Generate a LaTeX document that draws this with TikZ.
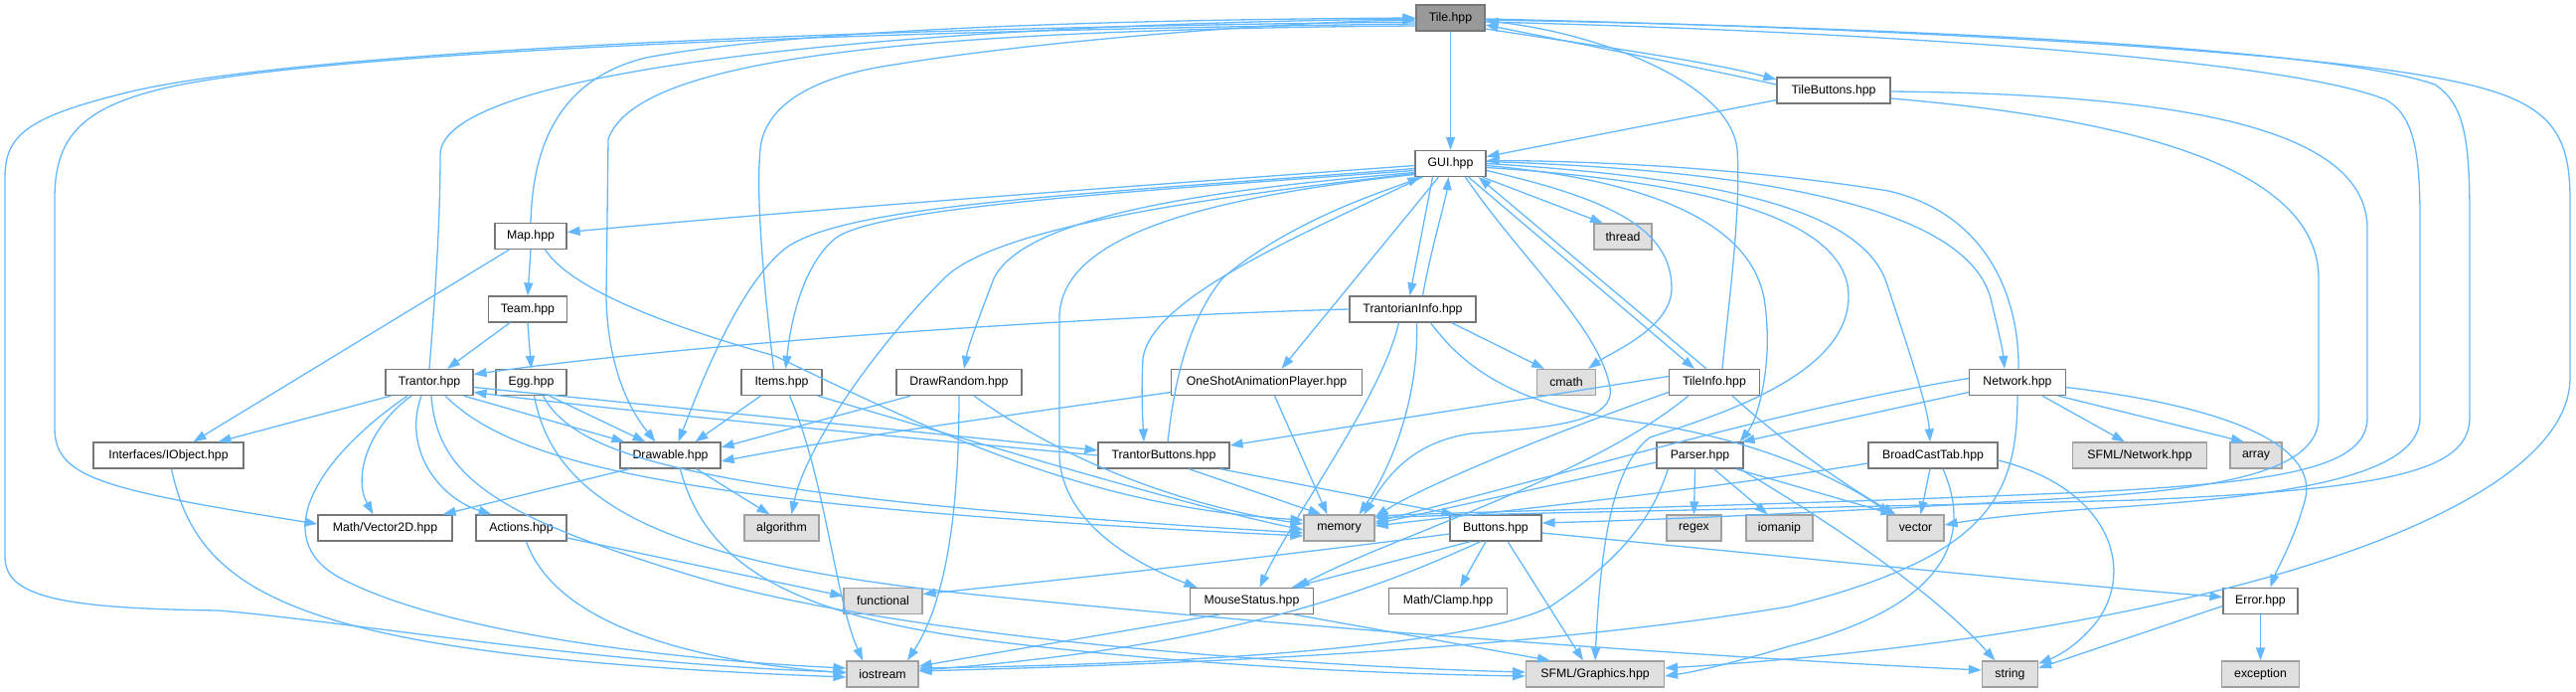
\documentclass[tikz,border=0pt]{standalone}
\usepackage{fontspec}
\setmainfont{Liberation Sans}
\usetikzlibrary{arrows.meta,calc}
\definecolor{edgeblue}{HTML}{63B8FF}
\definecolor{bordergray}{HTML}{777777}
\definecolor{sysborder}{HTML}{A0A0A0}
\definecolor{sysfill}{HTML}{E0E0E0}
\definecolor{rootfill}{HTML}{999999}
\begin{document}
\begin{tikzpicture}[x=1pt,y=-1pt,
  nd/.style={draw=bordergray,fill=white,line width=1.2pt,minimum height=26pt,inner sep=0pt,font=\fontsize{12.3pt}{14pt}\selectfont},
  sys/.style={nd,draw=sysborder,fill=sysfill},
  root/.style={nd,fill=rootfill},
  e/.style={draw=edgeblue,line width=1.3pt,-{Triangle[length=13pt,width=9pt]}}]
\useasboundingbox (0,0) rectangle (2592,696);
% nodes
\node[root,minimum width=69pt] (tile) at (1459.5,18) {Tile.hpp};
\node[nd,minimum width=71pt] (gui) at (1459.5,164.5) {GUI.hpp};
\node[nd,minimum width=114pt] (tb) at (1845,91) {TileButtons.hpp};
\node[nd,minimum width=72pt] (map) at (534,237.5) {Map.hpp};
\node[sys,minimum width=58pt] (thread) at (1633,238) {thread};
\node[nd,minimum width=79pt] (team) at (531,311) {Team.hpp};
\node[nd,minimum width=127pt] (tinf) at (1421.5,311) {TrantorianInfo.hpp};
\node[nd,minimum width=88pt] (trantor) at (432,384.5) {Trantor.hpp};
\node[nd,minimum width=71pt] (egg) at (534.5,384.5) {Egg.hpp};
\node[nd,minimum width=81pt] (items) at (786.5,384.5) {Items.hpp};
\node[nd,minimum width=126pt] (drawrandom) at (965,384.5) {DrawRandom.hpp};
\node[nd,minimum width=192pt] (oneshot) at (1274.5,384.5) {OneShotAnimationPlayer.hpp};
\node[sys,minimum width=59pt] (cmath) at (1576,384.5) {cmath};
\node[nd,minimum width=91pt] (tinfo) at (1725,384.5) {TileInfo.hpp};
\node[nd,minimum width=97pt] (network) at (2030,384.5) {Network.hpp};
\node[nd,minimum width=151pt] (iobject) at (169.5,458) {Interfaces/IObject.hpp};
\node[nd,minimum width=101pt] (drawable) at (674.5,458) {Drawable.hpp};
\node[nd,minimum width=132pt] (tbtn) at (1171,458) {TrantorButtons.hpp};
\node[nd,minimum width=87pt] (parser) at (1710.5,458) {Parser.hpp};
\node[nd,minimum width=130pt] (bct) at (1945,458) {BroadCastTab.hpp};
\node[sys,minimum width=135pt] (sfn) at (2153,458) {SFML/Network.hpp};
\node[sys,minimum width=52pt] (array) at (2270,458) {array};
\node[nd,minimum width=135pt] (vec) at (387.5,531) {Math/Vector2D.hpp};
\node[nd,minimum width=91pt] (actions) at (524.5,531) {Actions.hpp};
\node[sys,minimum width=75pt] (algorithm) at (786.5,531) {algorithm};
\node[sys,minimum width=71pt] (memory) at (1347.5,531) {memory};
\node[nd,minimum width=92pt] (buttons) at (1505,531) {Buttons.hpp};
\node[sys,minimum width=55pt] (regex) at (1704.5,531) {regex};
\node[sys,minimum width=67pt] (iomanip) at (1790.5,531) {iomanip};
\node[sys,minimum width=57pt] (vector) at (1927.5,531) {vector};
\node[sys,minimum width=79pt] (functional) at (888.5,604.5) {functional};
\node[nd,minimum width=124pt] (mouse) at (1259.5,604.5) {MouseStatus.hpp};
\node[nd,minimum width=119pt] (clamp) at (1457,604.5) {Math/Clamp.hpp};
\node[nd,minimum width=75pt] (error) at (2274.5,604.5) {Error.hpp};
\node[sys,minimum width=72pt] (iostream) at (888,678) {iostream};
\node[sys,minimum width=139pt] (sfg) at (1605,678) {SFML/Graphics.hpp};
\node[sys,minimum width=56pt] (string) at (2022.5,678) {string};
\node[sys,minimum width=78pt] (exception) at (2274.5,678) {exception};
% Tile
\draw[e] (tile.south) -- (gui.north);
\draw[e] ($(tile.east)+(0,11)$) .. controls (1600,45) and (1720,62) .. ($(tb.west)+(0,-11)$);
\draw[e] ($(tb.west)+(0,-6)$) .. controls (1700,66) and (1580,42) .. ($(tile.east)+(0,7)$);
\draw[e] ($(tinfo.north)+(8,0)$) .. controls (1740,300) and (1752,210) .. (1748,150) .. controls (1740,80) and (1600,32) .. ($(tile.east)+(0,3)$);
\draw[e] ($(tile.east)+(0,1)$) .. controls (1900,28) and (2300,50) .. (2450,78) .. controls (2560,98) and (2586,125) .. (2586,200) -- (2586,380) .. controls (2586,520) and (2200,640) .. ($(sfg.east)+(0,-6)$);
\draw[e] ($(tile.east)+(0,4)$) .. controls (1900,32) and (2300,60) .. (2400,100) .. controls (2428,115) and (2435,150) .. (2435,220) -- (2435,420) .. controls (2435,480) and (2300,500) .. (2100,512) .. controls (2020,518) and (1985,523) .. ($(vector.east)+(0,-3)$);
\draw[e] ($(tile.east)+(0,2)$) .. controls (1950,28) and (2350,50) .. (2450,85) .. controls (2480,105) and (2485,140) .. (2485,220) -- (2485,420) .. controls (2485,475) and (2400,492) .. (2150,503) .. controls (1800,512) and (1500,516) .. ($(memory.east)+(0,-10)$);
\draw[e] ($(tile.west)+(0,4)$) .. controls (700,30) and (250,60) .. (120,95) .. controls (20,120) and (5,140) .. (5,180) -- (5,560) .. controls (5,600) and (60,612) .. (220,614) .. controls (350,625) and (600,668) .. ($(iostream.west)+(0,-2)$);
\draw[e] ($(tile.west)+(0,6)$) .. controls (800,32) and (300,55) .. (160,90) .. controls (80,110) and (55,140) .. (55,200) -- (55,430) .. controls (55,480) and (100,492) .. ($(vec.west)+(0,-4)$);
\draw[e] (trantor.north) .. controls (441,260) and (443,200) .. (443,155) .. controls (445,70) and (900,25) .. ($(tile.west)+(0,1)$);
\draw[e] (map.north) .. controls (536,150) and (560,80) .. (650,58) .. controls (800,30) and (1100,20) .. (tile.west);
\draw[e] ($(tile.west)+(0,8)$) .. controls (900,30) and (640,60) .. (612,140) -- (610,300) .. controls (612,380) and (640,420) .. ($(drawable.north)+(-15,0)$);
\draw[e] ($(items.north)+(-8,0)$) .. controls (770,300) and (760,200) .. (765,150) .. controls (770,100) and (830,75) .. (900,65) .. controls (1050,40) and (1300,22) .. ($(tile.west)+(0,2)$);
% GUI
\draw[e] ($(gui.west)+(0,2)$) .. controls (1100,190) and (800,212) .. ($(map.east)+(0,-4)$);
\draw[e] ($(gui.west)+(0,5)$) .. controls (1100,195) and (850,205) .. (790,250) .. controls (740,290) and (700,400) .. ($(drawable.north)+(8,0)$);
\draw[e] ($(gui.west)+(0,7)$) .. controls (1100,195) and (880,210) .. (840,240) .. controls (805,270) and (795,330) .. ($(items.north)+(4,0)$);
\draw[e] ($(gui.west)+(0,10)$) .. controls (1200,200) and (1000,230) .. (950,280) .. controls (880,350) and (810,450) .. ($(algorithm.north)+(10,0)$);
\draw[e] ($(gui.west)+(0,9)$) .. controls (1200,192) and (1030,220) .. (1000,280) .. controls (985,320) and (975,345) .. ($(drawrandom.north)+(5,0)$);
\draw[e] ($(gui.west)+(0,11)$) .. controls (1200,200) and (1066,240) .. (1066,320) -- (1066,460) .. controls (1070,530) and (1150,570) .. ($(mouse.north)+(-55,0)$);
\draw[e] ($(gui.south west)+(8,0)$) .. controls (1300,240) and (1160,300) .. (1150,360) .. controls (1148,400) and (1150,425) .. ($(tbtn.north)+(-20,0)$);
\draw[e] ($(tbtn.north)+(4,0)$) .. controls (1180,400) and (1190,330) .. (1230,280) .. controls (1300,220) and (1400,190) .. ($(gui.south west)+(6,0)$);
\draw[e] ($(gui.south)+(-12,0)$) -- ($(oneshot.north)+(15,0)$);
\draw[e] ($(gui.south)+(-18,0)$) -- ($(tinf.north)+(-3,0)$);
\draw[e] ($(tinf.north)+(10,0)$) .. controls (1440,250) and (1455,200) .. ($(gui.south)+(-2,0)$);
\draw[e] ($(gui.south)+(15,0)$) .. controls (1530,260) and (1610,330) .. (1620,390) .. controls (1625,425) and (1560,430) .. (1480,436) .. controls (1420,445) and (1395,480) .. ($(memory.north)+(25,0)$);
\draw[e] ($(gui.east)+(0,7)$) .. controls (1620,200) and (1682,230) .. (1682,290) .. controls (1682,330) and (1620,355) .. ($(cmath.north)+(22,0)$);
\draw[e] ($(gui.south east)+(-4,0)$) -- ($(thread.north)+(-20,0)$);
\draw[e] ($(gui.south east)+(-18,0)$) -- ($(tinfo.north)+(-20,0)$);
\draw[e] ($(tinfo.north)+(-8,0)$) -- ($(gui.south east)+(-8,0)$);
\draw[e] ($(gui.east)+(0,4)$) .. controls (1750,185) and (1862,230) .. (1860,300) .. controls (1858,380) and (1720,420) .. (1660,440) .. controls (1620,470) and (1610,560) .. (sfg.north);
\draw[e] ($(gui.east)+(0,2)$) .. controls (1650,180) and (1760,220) .. (1775,300) .. controls (1785,360) and (1770,420) .. ($(parser.north east)+(-4,0)$);
\draw[e] (gui.east) .. controls (1750,180) and (1880,215) .. (1900,290) .. controls (1920,350) and (1940,410) .. ($(bct.north)+(-3,0)$);
\draw[e] ($(gui.east)+(0,-2)$) .. controls (1800,172) and (1980,215) .. (2003,300) .. controls (2010,330) and (2015,350) .. ($(network.north)+(-13,0)$);
\draw[e] ($(network.north)+(1,0)$) .. controls (2032,300) and (2000,215) .. (1900,192) .. controls (1750,168) and (1600,162) .. ($(gui.east)+(0,-3)$);
\draw[e] ($(tb.south west)+(0,-4)$) -- ($(gui.east)+(0,-7)$);
% TileButtons
\draw[e] ($(tb.east)+(0,8)$) .. controls (2150,120) and (2333,170) .. (2333,280) -- (2333,420) .. controls (2333,470) and (2250,490) .. (2100,500) .. controls (1900,512) and (1700,522) .. ($(buttons.east)+(0,-5)$);
\draw[e] ($(tb.east)+(0,1)$) .. controls (2200,95) and (2382,130) .. (2382,230) -- (2382,420) .. controls (2382,470) and (2300,485) .. (2100,495) .. controls (1800,508) and (1500,514) .. ($(memory.east)+(0,-12)$);
% Map, Team
\draw[e] (map.south) -- (team.north);
\draw[e] ($(map.south west)+(15,0)$) -- ($(iobject.north)+(25,0)$);
\draw[e] ($(map.south east)+(-22,0)$) .. controls (570,285) and (650,322) .. (780,358) .. controls (950,440) and (1100,510) .. ($(memory.west)+(0,-8)$);
\draw[e] ($(team.south)+(-18,0)$) -- ($(trantor.north)+(18,0)$);
\draw[e] (team.south) -- (egg.north);
% TrantorianInfo
\draw[e] (tinf.west) .. controls (1100,318) and (700,345) .. ($(trantor.east)+(0,-8)$);
\draw[e] ($(tinf.south east)+(-25,0)$) -- ($(cmath.north)+(-22,0)$);
\draw[e] ($(tinf.south)+(-14,0)$) .. controls (1390,400) and (1300,520) .. ($(mouse.north)+(8,0)$);
\draw[e] ($(tinf.south)+(4,0)$) .. controls (1428,400) and (1400,470) .. ($(memory.north)+(20,0)$);
\draw[e] ($(tinf.south)+(18,0)$) .. controls (1480,380) and (1540,410) .. (1650,425) .. controls (1760,440) and (1850,480) .. ($(vector.north)+(-25,0)$);
% TileInfo
\draw[e] ($(tinfo.west)+(0,-6)$) -- ($(tbtn.east)+(0,-10)$);
\draw[e] ($(tinfo.west)+(0,10)$) .. controls (1550,440) and (1430,490) .. ($(memory.east)+(0,-11)$);
\draw[e] ($(tinfo.south west)+(20,0)$) .. controls (1600,480) and (1400,540) .. ($(mouse.north)+(45,0)$);
\draw[e] ($(tinfo.south east)+(-28,0)$) .. controls (1800,450) and (1860,490) .. ($(vector.north)+(-20,0)$);
% Network
\draw[e] ($(network.west)+(0,10)$) -- ($(parser.north east)+(-2,0)$);
\draw[e] ($(network.west)+(0,-4)$) .. controls (1800,410) and (1600,470) .. ($(memory.east)+(0,-6)$);
\draw[e] ($(network.south)+(25,0)$) -- ($(sfn.north)+(-15,0)$);
\draw[e] ($(network.south east)+(-8,0)$) -- ($(array.north)+(-12,0)$);
\draw[e] ($(network.east)+(0,5)$) .. controls (2250,410) and (2330,450) .. (2320,500) .. controls (2310,540) and (2290,575) .. ($(error.north)+(10,0)$);
\draw[e] (network.south) .. controls (2030,500) and (2000,560) .. (1800,610) .. controls (1500,660) and (1100,670) .. ($(iostream.east)+(0,-3)$);
% Parser
\draw[e] ($(parser.west)+(0,7)$) -- ($(memory.east)+(0,-4)$);
\draw[e] ($(parser.south)+(-5,0)$) -- (regex.north);
\draw[e] ($(parser.south)+(14,0)$) -- ($(iomanip.north)+(-12,0)$);
\draw[e] ($(parser.south east)+(-8,0)$) -- ($(vector.north)+(-22,0)$);
\draw[e] ($(parser.south east)+(-4,0)$) .. controls (1850,530) and (1950,600) .. ($(string.north)+(-15,0)$);
\draw[e] ($(parser.south west)+(12,0)$) .. controls (1660,530) and (1620,570) .. (1560,610) .. controls (1480,650) and (1200,668) .. ($(iostream.east)+(0,-6)$);
% BroadCastTab
\draw[e] ($(bct.west)+(0,8)$) .. controls (1700,495) and (1500,515) .. ($(memory.east)+(0,-2)$);
\draw[e] ($(bct.south)+(-3,0)$) -- ($(vector.north)+(5,0)$);
\draw[e] ($(bct.south)+(10,0)$) .. controls (1985,540) and (1960,610) .. (1800,650) .. controls (1750,665) and (1710,675) .. ($(sfg.east)+(0,2)$);
\draw[e] ($(bct.east)+(0,5)$) .. controls (2120,490) and (2150,570) .. (2110,625) .. controls (2090,650) and (2070,660) .. ($(string.north east)+(0,3)$);
% Error
\draw[e] ($(error.west)+(0,5)$) -- ($(string.east)+(0,-6)$);
\draw[e] (error.south) -- (exception.north);
% Buttons
\draw[e] ($(buttons.west)+(0,6)$) .. controls (1200,570) and (1000,590) .. ($(functional.east)+(0,-7)$);
\draw[e] ($(buttons.south)+(-25,0)$) -- ($(mouse.north)+(40,0)$);
\draw[e] ($(buttons.south)+(-15,0)$) .. controls (1400,585) and (1250,650) .. ($(iostream.east)+(0,-4)$);
\draw[e] ($(buttons.south)+(-10,0)$) -- ($(clamp.north)+(12,0)$);
\draw[e] ($(buttons.south)+(12,0)$) -- ($(sfg.north)+(-12,0)$);
\draw[e] ($(buttons.east)+(0,5)$) .. controls (1800,560) and (2100,590) .. ($(error.west)+(0,-4)$);
% MouseStatus
\draw[e] ($(mouse.south west)+(30,0)$) -- ($(iostream.east)+(0,-8)$);
\draw[e] ($(mouse.south east)+(-20,0)$) -- ($(sfg.north west)+(25,0)$);
% TrantorButtons
\draw[e] ($(tbtn.south)+(25,0)$) -- ($(memory.north)+(-18,0)$);
\draw[e] ($(tbtn.south east)+(-10,0)$) -- ($(buttons.north west)+(5,0)$);
\draw[e] (tbtn.west) .. controls (800,430) and (600,410) .. ($(trantor.east)+(0,10)$);
\draw[e] ($(trantor.east)+(0,5)$) .. controls (700,412) and (900,432) .. ($(tbtn.west)+(0,-5)$);
% OneShot, DrawRandom
\draw[e] ($(oneshot.west)+(0,10)$) .. controls (1000,420) and (850,440) .. ($(drawable.east)+(0,6)$);
\draw[e] ($(oneshot.south)+(8,0)$) -- ($(memory.north)+(-12,0)$);
\draw[e] ($(drawrandom.south west)+(15,0)$) -- ($(drawable.east)+(0,-8)$);
\draw[e] ($(drawrandom.south)+(15,0)$) .. controls (1080,470) and (1200,510) .. ($(memory.west)+(0,-4)$);
\draw[e] (drawrandom.south) .. controls (965,500) and (955,600) .. ($(iostream.north)+(25,0)$);
% Items
\draw[e] ($(items.south west)+(20,0)$) -- ($(drawable.north)+(25,0)$);
\draw[e] ($(items.south east)+(-5,0)$) .. controls (1000,450) and (1200,510) .. ($(memory.west)+(0,2)$);
\draw[e] ($(items.south)+(8,0)$) .. controls (830,480) and (840,600) .. ($(iostream.north)+(-20,0)$);
% Egg
\draw[e] ($(egg.south east)+(-18,0)$) -- ($(drawable.north)+(-25,0)$);
\draw[e] ($(egg.south)+(12,0)$) .. controls (580,460) and (700,500) .. ($(memory.west)+(0,5)$);
\draw[e] ($(egg.south)+(3,0)$) .. controls (560,520) and (700,570) .. (1000,600) .. controls (1400,640) and (1800,665) .. ($(string.west)+(0,-4)$);
% Trantor
\draw[e] ($(trantor.south west)+(6,0)$) -- ($(iobject.north)+(50,0)$);
\draw[e] ($(trantor.south)+(-22,0)$) .. controls (320,460) and (270,540) .. (340,580) .. controls (450,640) and (700,665) .. ($(iostream.west)+(0,-6)$);
\draw[e] ($(trantor.south)+(-18,0)$) .. controls (370,430) and (355,480) .. ($(vec.north)+(-12,0)$);
\draw[e] ($(trantor.south)+(-8,0)$) .. controls (405,450) and (440,500) .. ($(actions.north)+(-30,0)$);
\draw[e] ($(trantor.south)+(2,0)$) .. controls (440,480) and (500,520) .. (700,580) .. controls (900,640) and (1300,670) .. ($(sfg.west)+(0,-2)$);
\draw[e] ($(trantor.south)+(16,0)$) .. controls (520,470) and (700,510) .. ($(memory.west)+(0,8)$);
\draw[e] ($(trantor.south east)+(-10,0)$) -- ($(drawable.north west)+(5,0)$);
% Drawable, Actions, IObject
\draw[e] ($(drawable.south west)+(10,0)$) -- ($(vec.north east)+(-10,0)$);
\draw[e] ($(drawable.south east)+(-25,0)$) -- ($(algorithm.north)+(-12,0)$);
\draw[e] ($(drawable.south)+(10,0)$) .. controls (710,570) and (800,620) .. (1000,645) .. controls (1200,670) and (1400,678) .. ($(sfg.west)+(0,2)$);
\draw[e] ($(actions.east)+(0,10)$) -- ($(functional.west)+(0,-5)$);
\draw[e] ($(actions.south)+(5,0)$) .. controls (560,630) and (700,665) .. ($(iostream.west)+(0,-1)$);
\draw[e] ($(iobject.south)+(3,0)$) .. controls (200,600) and (300,660) .. ($(iostream.west)+(0,3)$);
\end{tikzpicture}
\end{document}
